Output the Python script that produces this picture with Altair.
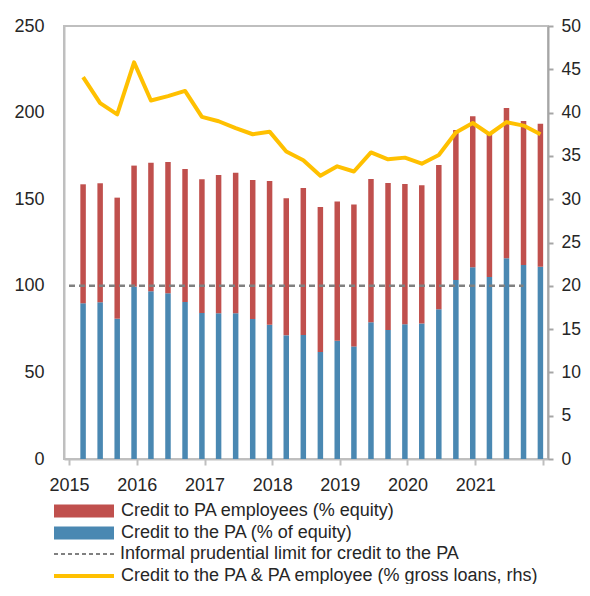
import altair as alt
import pandas as pd

# ---------------- data ----------------
years = [2015, 2016, 2017, 2018, 2019, 2020, 2021]
quarter_months = [3, 6, 9, 12]
quarter_dates = [f"{y}-{m:02d}-18" for y in years for m in quarter_months]

# Credit to the PA (% of equity) -- blue bars (lhs)
credit_pa_equity = [89.9, 90.5, 81.0, 99.5, 96.8, 95.7, 90.6, 84.3,
                    84.1, 84.1, 80.8, 77.5, 71.4, 71.6, 61.8, 68.3,
                    65.0, 78.9, 74.5, 77.8, 78.3, 86.4, 103.3, 110.7,
                    105.1, 115.9, 112.0, 111.0]
# Credit to PA employees (% equity) -- red bars stacked on top (lhs)
credit_pa_employees_equity = [68.7, 68.7, 69.9, 69.9, 74.3, 75.8, 76.8, 77.2,
                              79.9, 81.2, 80.3, 83.0, 79.1, 84.9, 83.7, 80.3,
                              82.0, 82.8, 84.9, 81.0, 79.7, 83.3, 86.7, 87.2,
                              82.4, 86.7, 83.2, 82.6]
# Credit to the PA & PA employee (% gross loans, rhs) -- yellow line
credit_gross_loans_rhs = [44.1, 41.1, 39.8, 45.8, 41.4, 41.9, 42.5, 39.5,
                          39.0, 38.2, 37.5, 37.8, 35.5, 34.5, 32.7, 33.8,
                          33.2, 35.4, 34.6, 34.8, 34.1, 35.1, 37.7, 38.8,
                          37.5, 38.9, 38.5, 37.5]
# Informal prudential limit
limit_value = 100
limit_period = ["2015-01-01", "2021-09-18"]

left_ticks = [0, 50, 100, 150, 200, 250]
right_ticks = [0, 5, 10, 15, 20, 25, 30, 35, 40, 45, 50]

name_emp = "Credit to PA employees (% equity)"
name_pa = "Credit to the PA (% of equity)"
name_limit = "Informal prudential limit for credit to the PA"
name_line = "Credit to the PA & PA employee (% gross loans, rhs)"

RED = "#C0504D"
BLUE = "#4A88B2"
YELLOW = "#FFC000"
GRAY = "#808080"
AXIS_GRAY = "#BFBFBF"
TEXT = "#262626"
FONT = "Liberation Sans"

# ---------------- tables ----------------
bar_rows = []
for d, b, r in zip(quarter_dates, credit_pa_equity, credit_pa_employees_equity):
    bar_rows.append({"date": d, "series": name_pa, "value": b, "ord": 0})
    bar_rows.append({"date": d, "series": name_emp, "value": r, "ord": 1})
bars_df = pd.DataFrame(bar_rows)

line_df = pd.DataFrame({"date": quarter_dates, "rhs": credit_gross_loans_rhs,
                        "series": [name_line] * len(quarter_dates)})

limit_df = pd.DataFrame({"start": [limit_period[0]], "end": [limit_period[1]],
                         "limit": [limit_value], "series": [name_limit]})

# ---------------- encodings ----------------
x_scale = alt.Scale(type="utc", domain=[alt.DateTime(year=2015, month=1, date=1, utc=True),
                                        alt.DateTime(year=2022, month=1, date=1, utc=True)])
x_axis = alt.Axis(
    title=None,
    values=[alt.DateTime(year=y, month=1, date=1, utc=True) for y in range(2015, 2023)],
    labelExpr="utcyear(datum.value) > 2021 ? '' : utcFormat(datum.value, '%Y')",
    grid=False, domainColor=AXIS_GRAY, domainWidth=2,
    tickColor=AXIS_GRAY, tickWidth=2, tickSize=6,
    labelFontSize=18, labelColor=TEXT, labelFont=FONT, labelPadding=11,
    labelFlush=False, labelOverlap=False,
)
left_axis = alt.Axis(
    title=None, values=left_ticks, grid=False, ticks=False,
    domainColor=AXIS_GRAY, domainWidth=2,
    labelFontSize=18, labelColor=TEXT, labelFont=FONT, labelPadding=20,
)
right_axis = alt.Axis(
    title=None, orient="right", values=right_ticks, grid=False,
    domainColor="#A6A6A6", domainWidth=2, tickColor="#A6A6A6", tickWidth=2, tickSize=5,
    labelFontSize=17.5, labelColor=TEXT, labelFont=FONT, labelPadding=8,
)
left_scale = alt.Scale(domain=[0, 250], nice=False)

legend_common = dict(title=None, orient="none", padding=0, labelFontSize=18,
                     labelFont=FONT, labelColor=TEXT, labelLimit=700, symbolSize=400,
                     symbolOpacity=1)

bars = alt.Chart(bars_df).mark_bar(size=5.5).encode(
    x=alt.X("date:T", scale=x_scale, axis=x_axis),
    y=alt.Y("value:Q", stack="zero", scale=left_scale, axis=left_axis),
    fill=alt.Fill("series:N",
                  scale=alt.Scale(domain=[name_emp, name_pa], range=[RED, BLUE]),
                  legend=alt.Legend(symbolType="M-3,-0.65L3,-0.65L3,0.65L-3,0.65Z",
                                    symbolStrokeWidth=0, labelOffset=27, rowPadding=3,
                                    legendX=10, legendY=475, **legend_common)),
    order=alt.Order("ord:Q"),
)

rule = alt.Chart(limit_df).mark_rule(strokeDash=[6, 4], strokeWidth=2.5).encode(
    x=alt.X("start:T", scale=x_scale, axis=x_axis),
    x2="end:T",
    y=alt.Y("limit:Q", scale=left_scale, axis=left_axis),
    stroke=alt.Stroke("series:N", scale=alt.Scale(domain=[name_limit], range=[GRAY]),
                      legend=alt.Legend(symbolType="M-3,0L3,0", symbolStrokeWidth=2,
                                        symbolDash=[4, 3], labelOffset=25,
                                        legendX=9, legendY=517, **legend_common)),
)

line = alt.Chart(line_df).mark_line(strokeWidth=4, strokeJoin="round").encode(
    x=alt.X("date:T", scale=x_scale, axis=x_axis),
    y=alt.Y("rhs:Q", scale=alt.Scale(domain=[0, 50], nice=False), axis=right_axis),
    color=alt.Color("series:N", scale=alt.Scale(domain=[name_line], range=[YELLOW]),
                    legend=alt.Legend(symbolType="M-3,0L3,0", symbolStrokeWidth=4,
                                      labelOffset=25, legendX=8, legendY=538,
                                      **legend_common)),
)

chart = alt.layer(alt.layer(bars, rule), line).resolve_scale(
    y="independent", fill="independent", stroke="independent", color="independent"
).properties(
    width=484, height=433,
    autosize=alt.AutoSizeParams(type="none"),
    padding={"left": 56, "top": 18, "right": 34, "bottom": 125},
).configure_view(
    stroke=AXIS_GRAY, strokeWidth=2
)

chart.save("out.html", embed_options={"renderer": "svg", "actions": False})
